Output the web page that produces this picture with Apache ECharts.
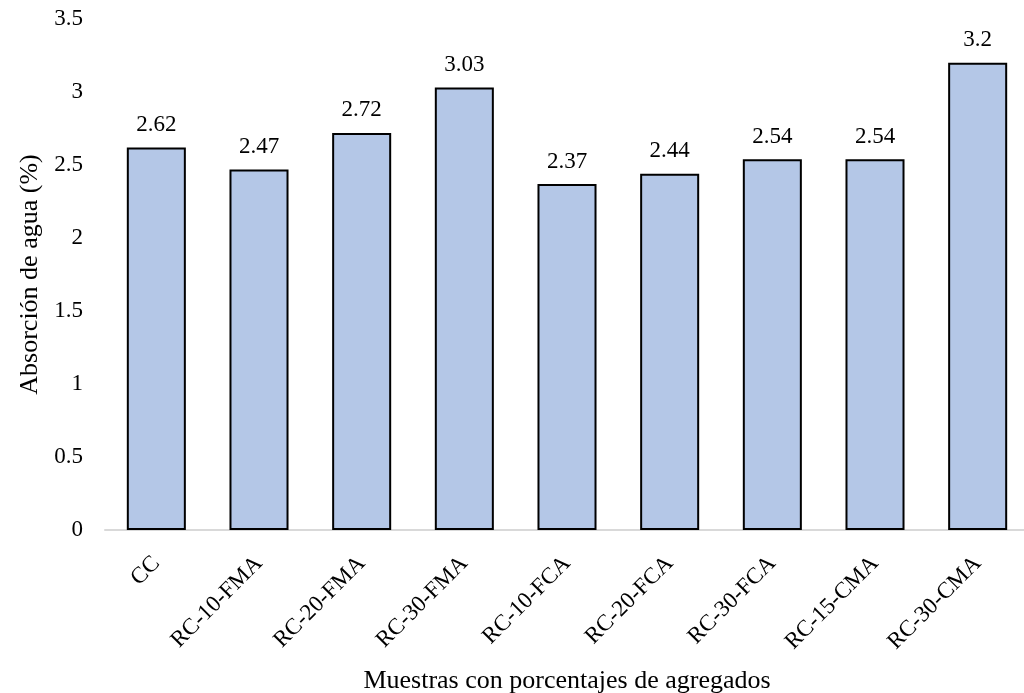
<!DOCTYPE html>
<html><head><meta charset="utf-8">
<script src="https://cdn.jsdelivr.net/npm/echarts@6/dist/echarts.min.js"></script>
<style>html,body{margin:0;padding:0;background:#fff}#c{width:1024px;height:693px}</style>
</head><body><div id="c"></div>
<script>
const categories = ['CC','RC-10-FMA','RC-20-FMA','RC-30-FMA','RC-10-FCA','RC-20-FCA','RC-30-FCA','RC-15-CMA','RC-30-CMA'];
const values = [2.62, 2.47, 2.72, 3.03, 2.37, 2.44, 2.54, 2.54, 3.2];
const yTitle = 'Absorción de agua (%)';
const xTitle = 'Muestras con porcentajes de agregados';
const font = '"Liberation Serif", "Times New Roman", serif';
const chart = echarts.init(document.getElementById('c'));
chart.setOption({
  animation: false,
  textStyle: {fontFamily: font},
  grid: {left: 105, right: -5, top: 19, bottom: 163, containLabel: false, outerBoundsMode: 'none'},
  xAxis: {
    type: 'category', data: categories,
    axisLine: {lineStyle: {color: '#d9d9d9', width: 2}},
    axisTick: {show: false},
    axisLabel: {rotate: 45, color: '#000', fontSize: 23, fontFamily: font, margin: 30, interval: 0},
    name: xTitle, nameLocation: 'middle', nameGap: 138,
    nameTextStyle: {color: '#000', fontSize: 26, fontFamily: font}
  },
  yAxis: {
    type: 'value', min: 0, max: 3.5, interval: 0.5,
    splitLine: {show: false},
    axisLine: {show: false}, axisTick: {show: false},
    axisLabel: {color: '#000', fontSize: 23, fontFamily: font, margin: 22},
    name: yTitle, nameLocation: 'middle', nameGap: 60,
    nameTextStyle: {color: '#000', fontSize: 26, fontFamily: font}
  },
  series: [{
    type: 'bar', data: values, barCategoryGap: '42.5%',
    itemStyle: {color: '#B4C7E7', borderColor: '#000', borderWidth: 2},
    label: {show: true, position: 'top', distance: 11, color: '#000', fontSize: 23, fontFamily: font}
  }]
});
</script></body></html>
